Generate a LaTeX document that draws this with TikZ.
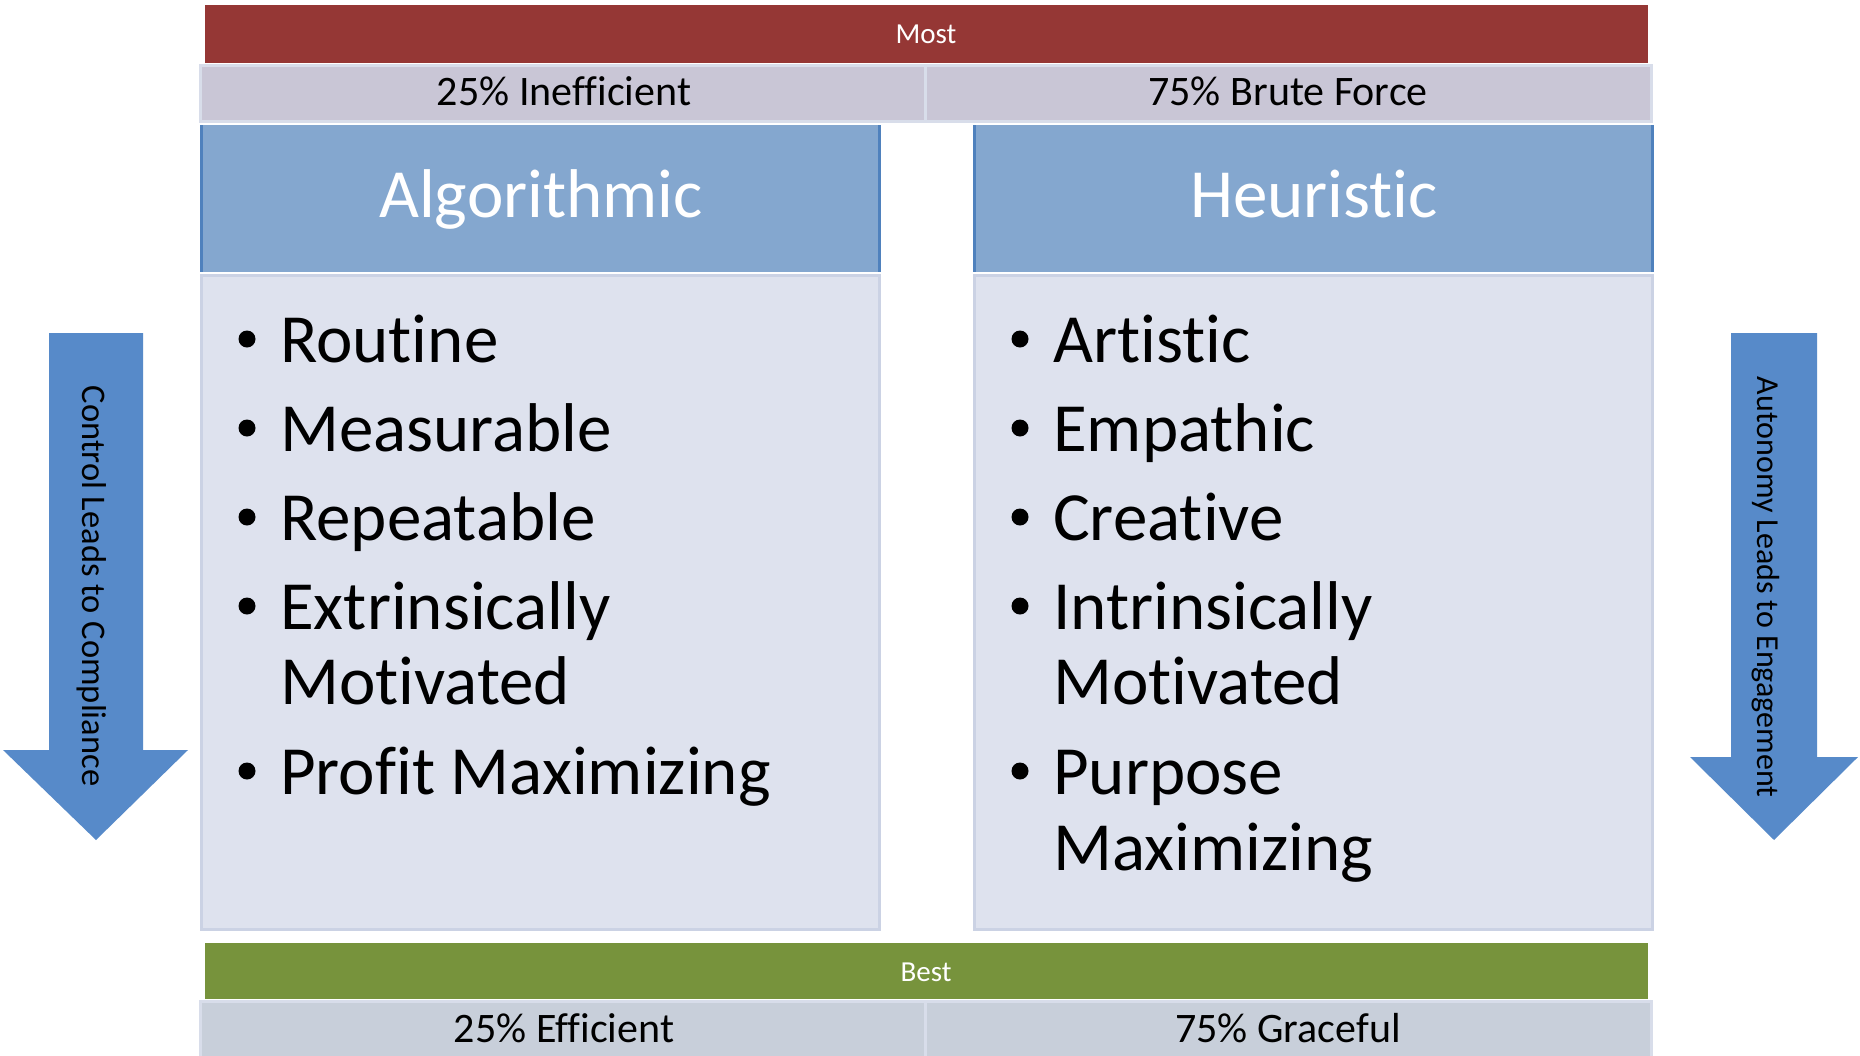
\documentclass[tikz,border=0pt]{standalone}
\usepackage{fontspec}
\setmainfont{Carlito}[RawFeature={-liga;-clig;-dlig}]
\definecolor{redbar}{HTML}{953735}
\definecolor{greenbar}{HTML}{77933C}
\definecolor{topgray}{HTML}{C9C6D6}
\definecolor{botgray}{HTML}{C8CFDA}
\definecolor{cellrim}{HTML}{D8DDEA}
\definecolor{headblue}{HTML}{84A7CF}
\definecolor{headedge}{HTML}{4F81BD}
\definecolor{bodyfill}{HTML}{DEE2EE}
\definecolor{bodyrim}{HTML}{CBD2E4}
\definecolor{arrowblue}{HTML}{578AC9}
\begin{document}
\begin{tikzpicture}[x=1pt,y=-1pt,
  bartext/.style={text=white,font=\fontsize{29}{29}\selectfont,anchor=base,inner sep=0},
  celltext/.style={text=black,font=\fontsize{42}{42}\selectfont,anchor=base,inner sep=0},
  headtext/.style={text=white,font=\fontsize{69}{69}\selectfont,anchor=base,inner sep=0},
  itemtext/.style={text=black,font=\fontsize{69}{69}\selectfont,anchor=base west,inner sep=0},
  bulletdot/.style={circle,fill=black,inner sep=0,minimum size=17},
  arrowtext/.style={text=black,rotate=-90,inner sep=0},
  cellbox/.style={draw=cellrim,line width=3},
  bodybox/.style={fill=bodyfill,draw=bodyrim,line width=3}
]
\useasboundingbox (0,0) rectangle (1860,1055);
\fill[white] (0,0) rectangle (1860,1055);
\begin{scope}
\clip (0,0) rectangle (1860,1055);
% top bars
\fill[redbar] (205,5) rectangle (1648,63);
\node[bartext] (most) at (926,43) {Most};
\filldraw[cellbox,fill=topgray] (200,65) rectangle (925,121);
\filldraw[cellbox,fill=topgray] (925,65) rectangle (1651,121);
\node[celltext] (ineff) at (564,105) {25\% Inefficient};
\node[celltext] (brute) at (1288,105) {75\% Brute Force};
% left column
\fill[headblue] (200,125) rectangle (881,272);
\draw[headedge,line width=3] (201.5,125) -- (201.5,272) (879.5,125) -- (879.5,272);
\node[headtext] (algo) at (541,217) {Algorithmic};
\filldraw[bodybox] (201.5,275) rectangle (879.5,929.5);
% right column
\fill[headblue] (973,125) rectangle (1654,272);
\draw[headedge,line width=3] (974.5,125) -- (974.5,272) (1652.5,125) -- (1652.5,272);
\node[headtext] (heur) at (1314,217) {Heuristic};
\filldraw[bodybox] (974.5,275) rectangle (1652.5,929.5);
% left bullets
\node[bulletdot] (lb1) at (247,339) {};
\node[itemtext] (l1) at (280,362) {Routine};
\node[bulletdot] (lb2) at (247,428) {};
\node[itemtext] (l2) at (280,451) {Measurable};
\node[bulletdot] (lb3) at (247,517) {};
\node[itemtext] (l3) at (280,540) {Repeatable};
\node[bulletdot] (lb4) at (247,606) {};
\node[itemtext] (l4) at (280,629) {Extrinsically};
\node[itemtext] (l4b) at (280,704) {Motivated};
\node[bulletdot] (lb5) at (247,771) {};
\node[itemtext] (l5) at (280,794) {Profit Maximizing};
% right bullets
\node[bulletdot] (rb1) at (1020,339) {};
\node[itemtext] (r1) at (1053,362) {Artistic};
\node[bulletdot] (rb2) at (1020,428) {};
\node[itemtext] (r2) at (1053,451) {Empathic};
\node[bulletdot] (rb3) at (1020,517) {};
\node[itemtext] (r3) at (1053,540) {Creative};
\node[bulletdot] (rb4) at (1020,606) {};
\node[itemtext] (r4) at (1053,629) {Intrinsically};
\node[itemtext] (r4b) at (1053,704) {Motivated};
\node[bulletdot] (rb5) at (1020,771) {};
\node[itemtext] (r5) at (1053,794) {Purpose};
\node[itemtext] (r5b) at (1053,870) {Maximizing};
% bottom bars
\fill[greenbar] (205,943) rectangle (1648,999);
\node[bartext] (best) at (926,981) {Best};
\filldraw[cellbox,fill=botgray] (200,1001) rectangle (925,1070);
\filldraw[cellbox,fill=botgray] (925,1001) rectangle (1651,1070);
\node[celltext] (eff) at (564,1042) {25\% Efficient};
\node[celltext] (grace) at (1288,1042) {75\% Graceful};
% side arrows
\fill[arrowblue] (49,333) -- (143,333) -- (143,750) -- (188,750) -- (96,840) -- (3,750) -- (49,750) -- cycle;
\node[arrowtext,font=\fontsize{34.5}{34.5}\selectfont] (ctrl) at (92,586) {Control Leads to Compliance};
\fill[arrowblue] (1731,333) -- (1817,333) -- (1817,757) -- (1858,757) -- (1774,840) -- (1690,757) -- (1731,757) -- cycle;
\node[arrowtext,font=\fontsize{32}{32}\selectfont] (auto) at (1766,587) {Autonomy Leads to Engagement};
\end{scope}
\end{tikzpicture}
\end{document}
